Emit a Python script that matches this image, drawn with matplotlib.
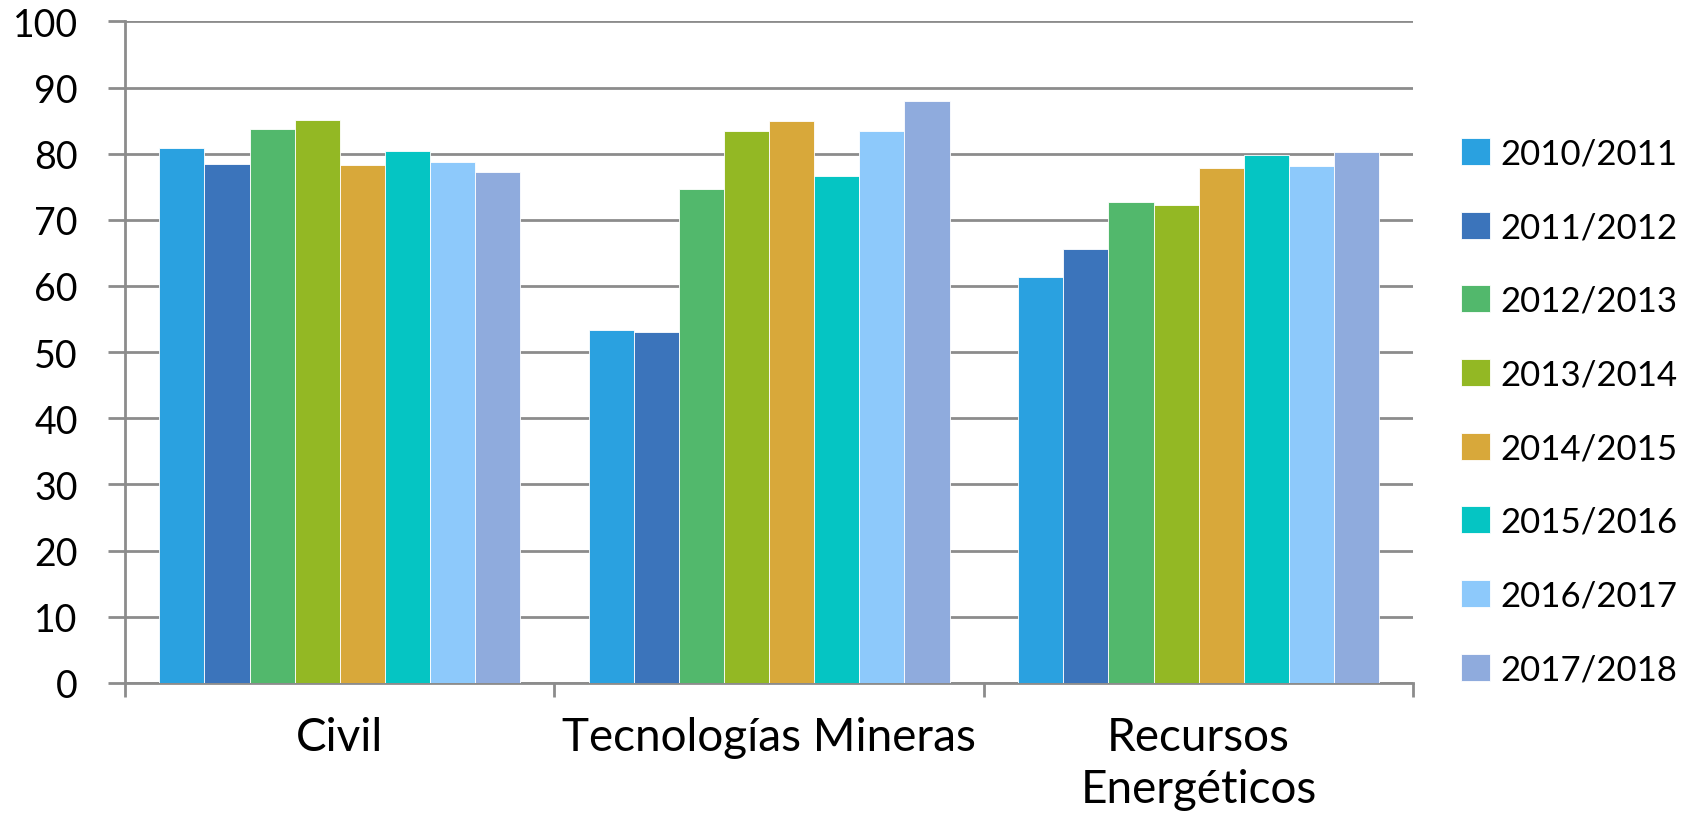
import numpy as np
import matplotlib.pyplot as plt

# Data
categories = ['Civil', 'Tecnologías Mineras', 'Recursos\nEnergéticos']
years = ['2010/2011', '2011/2012', '2012/2013', '2013/2014',
         '2014/2015', '2015/2016', '2016/2017', '2017/2018']
civil = [80.9, 78.4, 83.7, 85.1, 78.3, 80.4, 78.8, 77.3]
mineras = [53.3, 53.0, 74.6, 83.5, 84.9, 76.7, 83.5, 87.9]
energeticos = [61.3, 65.6, 72.7, 72.2, 77.9, 79.8, 78.2, 80.2]
colors = ['#2aa1e0', '#3b74bb', '#52b86c', '#93b824',
          '#d8a83a', '#05c5c3', '#8dc9fb', '#8fabdd']

plt.rcParams['font.family'] = ['Lato', 'DejaVu Sans']

values = np.array([civil, mineras, energeticos])  # shape (3 categories, 8 years)

fig = plt.figure(figsize=(17.07, 8.28), dpi=100)
ax = fig.add_axes([0.0732, 0.174, 0.7548, 0.799])

x = np.arange(len(categories))
width = 0.105
for i, year in enumerate(years):
    offs = (i - 3.5) * width
    ax.bar(x + offs, values[:, i], width, color=colors[i], label=year,
           edgecolor='white', linewidth=0.6, zorder=3)

ax.set_ylim(0, 100)
ax.set_xlim(-0.5, 2.5)
ax.set_yticks(np.arange(0, 101, 10))
ax.yaxis.grid(True, color='#8c8c8c', linewidth=2, zorder=0)
ax.set_axisbelow(True)

for s in ['top', 'right']:
    ax.spines[s].set_visible(False)
for s in ['left', 'bottom']:
    ax.spines[s].set_color('#8c8c8c')
    ax.spines[s].set_linewidth(2)

# category labels centered, tick marks at the boundaries
ax.set_xticks(x)
ax.set_xticklabels(categories, fontsize=33, linespacing=1.3)
ax.tick_params(axis='x', length=0, pad=24)
ax.set_xticks([-0.5, 0.5, 1.5, 2.5], minor=True)
ax.tick_params(axis='x', which='minor', length=10, width=2, color='#8c8c8c')
ax.tick_params(axis='y', length=12, width=2, color='#8c8c8c', labelsize=27, pad=22)

fig.legend(loc='center left', bbox_to_anchor=(0.856, 0.502), frameon=False,
           fontsize=25, handlelength=0.82, handleheight=0.82,
           labelspacing=1.2, handletextpad=0.32,
           borderpad=0, borderaxespad=0)

fig.savefig('out.png', dpi=100)
